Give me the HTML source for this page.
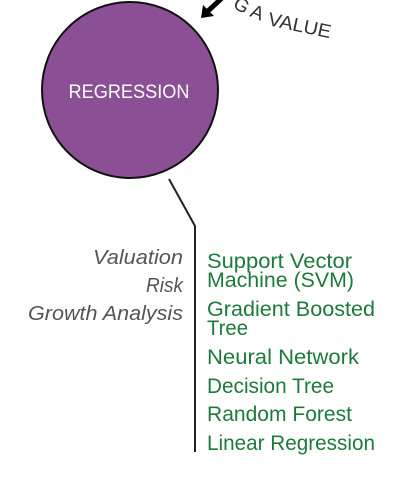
<!DOCTYPE html>
<html><head><style>
body{margin:0;background:#fff;}
svg{display:block}
</style></head><body>
<svg width="404" height="490" viewBox="0 0 404 490" xmlns="http://www.w3.org/2000/svg">
<circle cx="130" cy="90" r="88" fill="#8a4f94" stroke="#111" stroke-width="2"/>
<text x="129" y="98" text-anchor="middle" font-family="Liberation Sans, sans-serif" font-size="19" fill="#fff" textLength="121" lengthAdjust="spacingAndGlyphs">REGRESSION</text>
<polyline points="169,179 195,226 195,452" fill="none" stroke="#222" stroke-width="2"/>
<line x1="222" y1="-2" x2="208" y2="11" stroke="#000" stroke-width="5"/>
<polygon points="201,18 203,5 214,16" fill="#000"/>
<g font-family="Liberation Sans, sans-serif" font-size="19" fill="#333">
<text transform="translate(232,7) rotate(30)">G</text>
<text transform="translate(249,16) rotate(22)">A</text>
<text transform="translate(267,25) rotate(12)" textLength="64" lengthAdjust="spacingAndGlyphs">VALUE</text>
</g>
<g font-family="Liberation Sans, sans-serif" font-style="italic" font-size="20" fill="#555" text-anchor="end">
<text x="183" y="264" textLength="90" lengthAdjust="spacingAndGlyphs">Valuation</text>
<text x="183" y="292" textLength="37" lengthAdjust="spacingAndGlyphs">Risk</text>
<text x="183" y="320" textLength="155" lengthAdjust="spacingAndGlyphs">Growth Analysis</text>
</g>
<g font-family="Liberation Sans, sans-serif" font-size="21" fill="#1e7a3c">
<text x="207" y="268" textLength="145" lengthAdjust="spacingAndGlyphs">Support Vector</text>
<text x="207" y="287" textLength="147" lengthAdjust="spacingAndGlyphs">Machine (SVM)</text>
<text x="207" y="316" textLength="168" lengthAdjust="spacingAndGlyphs">Gradient Boosted</text>
<text x="207" y="335" textLength="41" lengthAdjust="spacingAndGlyphs">Tree</text>
<text x="207" y="364" textLength="152" lengthAdjust="spacingAndGlyphs">Neural Network</text>
<text x="207" y="393" textLength="127" lengthAdjust="spacingAndGlyphs">Decision Tree</text>
<text x="207" y="421" textLength="145" lengthAdjust="spacingAndGlyphs">Random Forest</text>
<text x="207" y="450" textLength="168" lengthAdjust="spacingAndGlyphs">Linear Regression</text>
</g>
</svg>
</body></html>
